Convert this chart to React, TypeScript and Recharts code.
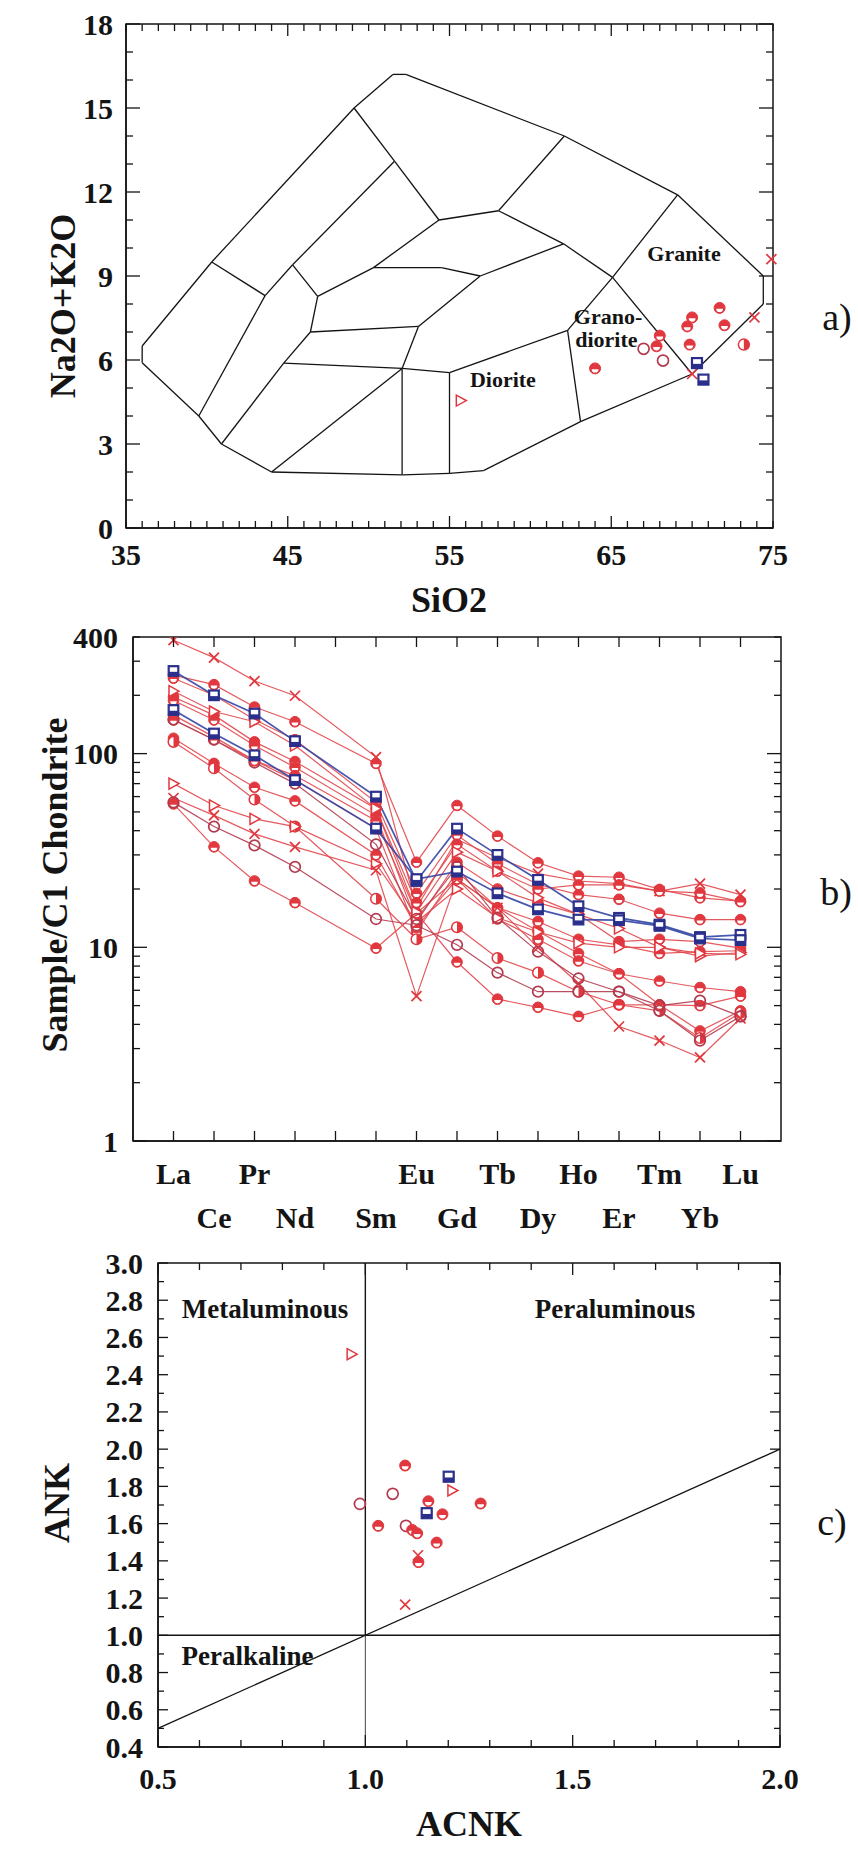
import React from 'react';
import {
  ScatterChart,
  Scatter,
  LineChart,
  Line,
  XAxis,
  YAxis,
  ReferenceLine,
  ReferenceArea,
} from 'recharts';

const FONT = '"Liberation Serif", "Times New Roman", Times, serif';
const INK = '#141414';
const RED = '#e0383e';
const RED_LINE = '#e2474d';
const DARK_RED = '#b33a4e';
const NAVY = '#2a2f8c';
const BLUE_LINE = '#3445a5';

// ---------------- Panel a: TAS diagram ----------------
const TAS_OUTLINE: number[][] = [
  [36.0, 5.9], [36.0, 6.5], [40.3, 9.5], [49.1, 15.0], [51.5, 16.2], [52.3, 16.2],
  [62.1, 14.0], [69.1, 11.9], [74.4, 9.0], [74.4, 8.0], [70.0, 5.5], [63.1, 3.8],
  [57.1, 2.05], [55.0, 1.95], [52.1, 1.9], [44.0, 2.0], [40.9, 3.0], [39.5, 4.0], [36.0, 5.9],
];
const TAS_INNER: number[][][] = [
  [[40.3, 9.5], [43.6, 8.3], [39.5, 4.0]],
  [[49.1, 15.0], [51.6, 13.1], [54.35, 11.0]],
  [[51.6, 13.1], [45.3, 9.4], [43.6, 8.3]],
  [[45.3, 9.4], [46.85, 8.27]],
  [[46.85, 8.27], [50.3, 9.3], [54.35, 11.0]],
  [[50.3, 9.3], [54.5, 9.3], [56.9, 9.0]],
  [[46.85, 8.27], [46.4, 7.0], [44.75, 5.89], [40.9, 3.0]],
  [[46.4, 7.0], [53.08, 7.2]],
  [[53.08, 7.2], [56.9, 9.0], [62.05, 10.15]],
  [[53.08, 7.2], [52.07, 5.7]],
  [[44.75, 5.89], [52.07, 5.7], [55.0, 5.55]],
  [[52.07, 5.7], [44.0, 2.0]],
  [[52.07, 5.7], [52.07, 1.9]],
  [[55.0, 5.55], [55.0, 1.95]],
  [[55.0, 5.55], [62.3, 7.06], [65.08, 8.95]],
  [[62.3, 7.06], [63.1, 3.8]],
  [[65.08, 8.95], [69.1, 11.9]],
  [[65.08, 8.95], [70.0, 5.5]],
  [[54.35, 11.0], [58.03, 11.33], [62.1, 14.0]],
  [[58.03, 11.33], [62.05, 10.15], [65.08, 8.95]],
];
const TAS_LABELS = [
  { x: 69.5, y: 9.8, text: 'Granite' },
  { x: 64.8, y: 7.55, text: 'Grano-' },
  { x: 64.7, y: 6.73, text: 'diorite' },
  { x: 58.3, y: 5.32, text: 'Diorite' },
];
const A_CROSS = [{ x: 74.9, y: 9.6 }, { x: 73.85, y: 7.52 }, { x: 70.0, y: 5.5 }];
const A_TRI = [{ x: 55.7, y: 4.55 }];
const A_HALF = [
  { x: 64.0, y: 5.7 }, { x: 68.0, y: 6.87 }, { x: 67.8, y: 6.49 }, { x: 70.0, y: 7.52 },
  { x: 69.7, y: 7.2 }, { x: 69.85, y: 6.55 }, { x: 71.7, y: 7.86 }, { x: 72.0, y: 7.24 },
];
const A_HALFV = [{ x: 73.2, y: 6.55 }];
const A_OPEN = [{ x: 67.0, y: 6.4 }, { x: 68.2, y: 5.98 }];
const A_SQUARE = [{ x: 70.3, y: 5.89 }, { x: 70.7, y: 5.3 }];

const X_TICKS_A = [35, 36, 37, 38, 39, 40, 41, 42, 43, 44, 45, 46, 47, 48, 49, 50, 51, 52, 53, 54, 55,
  56, 57, 58, 59, 60, 61, 62, 63, 64, 65, 66, 67, 68, 69, 70, 71, 72, 73, 74, 75];
const X_LABELS_A = [35, 45, 55, 65, 75];
const Y_TICKS_A = [0, 1, 2, 3, 4, 5, 6, 7, 8, 9, 10, 11, 12, 13, 14, 15, 16, 17, 18];
const Y_LABELS_A = [0, 3, 6, 9, 12, 15, 18];

// ---------------- Panel b: REE pattern ----------------
const ELEMENTS = ['La', 'Ce', 'Pr', 'Nd', 'Sm', 'Eu', 'Gd', 'Tb', 'Dy', 'Ho', 'Er', 'Tm', 'Yb', 'Lu'];
const ELEMENT_POS = [1, 2, 3, 4, 6, 7, 8, 9, 10, 11, 12, 13, 14, 15];
const REE_TICK_LABELS = ['La', 'Ce', 'Pr', 'Nd', '', 'Sm', 'Eu', 'Gd', 'Tb', 'Dy', 'Ho', 'Er', 'Tm', 'Yb', 'Lu'];
const REE_TICKS = [1, 2, 3, 4, 5, 6, 7, 8, 9, 10, 11, 12, 13, 14, 15];
const Y_TICKS_B = [1, 2, 3, 4, 5, 6, 7, 8, 9, 10, 20, 30, 40, 50, 60, 70, 80, 90, 100, 200, 300, 400];
const Y_LABELS_B = [1, 10, 100, 400];

const R1 = [385, 313, 237, 199, 96, 16, 36, 29, 24, 22, 21.3, 19.5, 21.3, 18.7];
const R2 = [254, 227, 174, 146, 89, 27.5, 54, 37.5, 27.3, 23.3, 23, 19.9, 18, 17.3];
const R3 = [245, 200, 150, 118, 56, 19, 38, 27, 21.1, 18.7, 17.7, 15, 13.9, 13.9];
const R4 = [196, 158, 115, 91, 52, 17, 34, 24.7, 20, 21, 21, 19.5, 19.1, 17.2];
const R5 = [188, 149, 110, 85, 48, 13.5, 27.5, 20, 17, 14.8, 10.7, 11, 10.7, 9.9];
const R6 = [158, 122, 92, 77, 45, 15, 22.5, 16, 13.6, 11, 10.3, 9.3, 9.5, 9.6];
const R7 = [149, 118, 92, 73, 41, 12, 24.6, 16, 12.1, 9.3, 7.3, 5.05, 3.7, 4.7];
const R8 = [120, 89, 67, 57, 30, 12.7, 22.5, 14, 11, 8.5, 7.3, 6.7, 6.2, 5.9];
const R9 = [115, 84, 58, 42, 17.8, 11, 12.7, 8.8, 7.4, 5.9, 5.05, 4.7, 3.4, 4.6];
const R10 = [55, 33, 22, 17, 9.9, 15, 8.4, 5.4, 4.9, 4.4, 5.05, 5.05, 5.0, 5.6];
const T1 = [210, 165, 146, 110, 52, 15.2, 31, 24.7, 18, 14.8, 12.5, 10, 9.0, 9.4];
const T2 = [70, 54, 46, 42, 27, 13.5, 20, 14.2, 12, 10.5, 10, 10, 9.3, 9.2];
const C2 = [59, 48, 38.5, 33, 25, 5.6, 22.5, 16, 10, 6.5, 3.9, 3.3, 2.7, 4.3];
const O1 = [56, 42, 33.6, 26, 14, 13, 10.3, 7.4, 5.9, 5.9, 5.9, 5.0, 5.3, 4.4];
const O2 = [150, 118, 90, 70, 34, 14, 26, 14.2, 9.5, 6.9, 5.9, 4.7, 3.3, 4.4];
const B1 = [267, 200, 161, 116, 60, 22, 41, 30, 22.3, 16.3, 14.2, 13.1, 11.3, 11.6];
const B2 = [168, 127, 98, 73, 41, 22.5, 24.6, 19, 15.7, 13.9, 13.8, 12.9, 11.1, 10.9];

// ---------------- Panel c: A/CNK vs A/NK ----------------
const C_CROSS = [{ x: 1.096, y: 1.165 }, { x: 1.127, y: 1.43 }];
const C_TRI = [{ x: 0.967, y: 2.51 }, { x: 1.21, y: 1.778 }];
const C_OPEN = [{ x: 0.987, y: 1.706 }, { x: 1.066, y: 1.76 }, { x: 1.098, y: 1.588 }];
const C_SQUARE = [{ x: 1.201, y: 1.852 }, { x: 1.148, y: 1.656 }];
const C_HALF = [
  { x: 1.096, y: 1.912 }, { x: 1.031, y: 1.588 }, { x: 1.113, y: 1.566 }, { x: 1.125, y: 1.548 },
  { x: 1.152, y: 1.72 }, { x: 1.186, y: 1.65 }, { x: 1.172, y: 1.498 }, { x: 1.128, y: 1.393 },
  { x: 1.278, y: 1.708 },
];
const C_LABELS = [
  { x: 0.758, y: 2.755, text: 'Metaluminous' },
  { x: 1.602, y: 2.755, text: 'Peraluminous' },
  { x: 0.716, y: 0.889, text: 'Peralkaline' },
];
const X_TICKS_C = [0.5, 0.6, 0.7, 0.8, 0.9, 1.0, 1.1, 1.2, 1.3, 1.4, 1.5, 1.6, 1.7, 1.8, 1.9, 2.0];
const X_LABELS_C = [0.5, 1.0, 1.5, 2.0];
const Y_TICKS_C = [0.4, 0.5, 0.6, 0.7, 0.8, 0.9, 1.0, 1.1, 1.2, 1.3, 1.4, 1.5, 1.6, 1.7, 1.8, 1.9,
  2.0, 2.1, 2.2, 2.3, 2.4, 2.5, 2.6, 2.7, 2.8, 2.9, 3.0];
const Y_LABELS_C = [0.4, 0.6, 0.8, 1.0, 1.2, 1.4, 1.6, 1.8, 2.0, 2.2, 2.4, 2.6, 2.8, 3.0];

// ---------------- markers ----------------
function Marker({ kind, cx, cy, s = 5.5 }: { kind: string; cx: number; cy: number; s?: number }) {
  if (cx == null || cy == null || Number.isNaN(cx) || Number.isNaN(cy)) return <g />;
  const k = s * 0.62;
  switch (kind) {
    case 'half':
      return (
        <g>
          <circle cx={cx} cy={cy} r={s} fill={RED} stroke={RED} strokeWidth={1} />
          <path d={`M${cx - k},${cy + 0.8} A${k},${k} 0 0 0 ${cx + k},${cy + 0.8} Z`} fill="#fff" />
        </g>
      );
    case 'halfv':
      return (
        <g>
          <circle cx={cx} cy={cy} r={s} fill="#fff" stroke={RED} strokeWidth={1.5} />
          <path d={`M${cx},${cy - s} A${s},${s} 0 0 1 ${cx},${cy + s} Z`} fill={RED} />
        </g>
      );
    case 'open':
      return <circle cx={cx} cy={cy} r={s} fill="none" stroke={DARK_RED} strokeWidth={1.7} />;
    case 'tri':
      return (
        <polygon
          points={`${cx - 4.5},${cy - 5.5} ${cx + 5.5},${cy} ${cx - 4.5},${cy + 5.5}`}
          fill="#fff"
          stroke={RED}
          strokeWidth={1.5}
        />
      );
    case 'cross':
      return (
        <g stroke={RED} strokeWidth={1.7}>
          <line x1={cx - 5} y1={cy - 5} x2={cx + 5} y2={cy + 5} />
          <line x1={cx - 5} y1={cy + 5} x2={cx + 5} y2={cy - 5} />
        </g>
      );
    case 'square':
      return (
        <g>
          <rect x={cx - s} y={cy - s} width={2 * s} height={2 * s} fill={NAVY} stroke={NAVY} strokeWidth={1.2} />
          <rect x={cx - s + 1.6} y={cy - s + 1.6} width={2 * s - 3.2} height={s * 0.85} fill="#fff" />
        </g>
      );
    default:
      return <g />;
  }
}

const shapeOf = (kind: string) => (p: any) => <Marker kind={kind} cx={p.cx} cy={p.cy} />;
const textShape = (size: number) => (p: any) => (
  <text
    x={p.cx}
    y={p.cy}
    textAnchor="middle"
    dominantBaseline="central"
    fontFamily={FONT}
    fontWeight="bold"
    fontSize={size}
    fill={INK}
  >
    {p.payload.text}
  </text>
);

// ---------------- ticks ----------------
type TickOpts = {
  opp: number;
  isMajor: (v: number) => boolean;
  majorLen: number;
  minorLen: number;
  label: (v: number) => string;
  off: (v: number) => number;
  fontSize: number;
};

function makeXTick(o: TickOpts) {
  return (props: any) => {
    const { x, y, payload } = props;
    const v = payload.value;
    const len = o.isMajor(v) ? o.majorLen : o.minorLen;
    const lab = o.label(v);
    return (
      <g>
        <line x1={x} y1={y} x2={x} y2={y - len} stroke={INK} strokeWidth={1.3} />
        <line x1={x} y1={o.opp} x2={x} y2={o.opp + len} stroke={INK} strokeWidth={1.3} />
        {lab ? (
          <text x={x} y={y + o.off(v)} textAnchor="middle" dominantBaseline="central"
            fontFamily={FONT} fontWeight="bold" fontSize={o.fontSize} fill={INK}>
            {lab}
          </text>
        ) : null}
      </g>
    );
  };
}

function makeYTick(o: TickOpts) {
  return (props: any) => {
    const { x, y, payload } = props;
    const v = payload.value;
    const len = o.isMajor(v) ? o.majorLen : o.minorLen;
    const lab = o.label(v);
    return (
      <g>
        <line x1={x} y1={y} x2={x + len} y2={y} stroke={INK} strokeWidth={1.3} />
        <line x1={o.opp} y1={y} x2={o.opp - len} y2={y} stroke={INK} strokeWidth={1.3} />
        {lab ? (
          <text x={x - o.off(v)} y={y} textAnchor="end" dominantBaseline="central"
            fontFamily={FONT} fontWeight="bold" fontSize={o.fontSize} fill={INK}>
            {lab}
          </text>
        ) : null}
      </g>
    );
  };
}

const near = (list: number[], v: number) => list.some((t) => Math.abs(t - v) < 1e-6);

function segmentsOf(poly: number[][]) {
  const out: { x: number; y: number }[][] = [];
  for (let i = 0; i < poly.length - 1; i++) {
    out.push([{ x: poly[i][0], y: poly[i][1] }, { x: poly[i + 1][0], y: poly[i + 1][1] }]);
  }
  return out;
}

// ---------------- Panel A ----------------
function PanelA() {
  const segs = [...segmentsOf(TAS_OUTLINE), ...TAS_INNER.flatMap(segmentsOf)];
  return (
    <ScatterChart width={858} height={620} margin={{ top: 24, right: 85, bottom: 52, left: 66 }}>
      <XAxis type="number" dataKey="x" domain={[35, 75]} ticks={X_TICKS_A} interval={0} height={40}
        tickSize={0} tickMargin={0} tickLine={false} axisLine={{ stroke: INK, strokeWidth: 1.5 }}
        tick={makeXTick({
          opp: 24, isMajor: (v) => near([45, 55, 65], v), majorLen: 12, minorLen: 7,
          label: (v) => (near(X_LABELS_A, v) ? String(v) : ''), off: () => 26, fontSize: 30,
        })} />
      <YAxis type="number" dataKey="y" domain={[0, 18]} ticks={Y_TICKS_A} interval={0} width={60}
        tickSize={0} tickMargin={0} tickLine={false} axisLine={{ stroke: INK, strokeWidth: 1.5 }}
        tick={makeYTick({
          opp: 773, isMajor: (v) => near(Y_LABELS_A, v), majorLen: 14, minorLen: 7,
          label: (v) => (near(Y_LABELS_A, v) ? String(v) : ''), off: () => 13, fontSize: 30,
        })} />
      <ReferenceArea x1={35} x2={75} y1={0} y2={18} fill="none" stroke={INK} strokeWidth={1.5} />
      {segs.map((s, i) => (
        <ReferenceLine key={`tas-${i}`} segment={s} stroke={INK} strokeWidth={1.3} ifOverflow="visible" />
      ))}
      <Scatter data={TAS_LABELS} shape={textShape(22)} isAnimationActive={false} />
      <Scatter data={A_TRI} shape={shapeOf('tri')} isAnimationActive={false} />
      <Scatter data={A_OPEN} shape={shapeOf('open')} isAnimationActive={false} />
      <Scatter data={A_HALF} shape={shapeOf('half')} isAnimationActive={false} />
      <Scatter data={A_HALFV} shape={shapeOf('halfv')} isAnimationActive={false} />
      <Scatter data={A_CROSS} shape={shapeOf('cross')} isAnimationActive={false} />
      <Scatter data={A_SQUARE} shape={shapeOf('square')} isAnimationActive={false} />
    </ScatterChart>
  );
}

// ---------------- Panel B ----------------
const REE_SERIES = [
  { key: 'r1', values: R1, kind: 'cross', color: RED_LINE },
  { key: 'r2', values: R2, kind: 'half', color: RED_LINE },
  { key: 'r3', values: R3, kind: 'half', color: RED_LINE },
  { key: 'r4', values: R4, kind: 'half', color: RED_LINE },
  { key: 'r5', values: R5, kind: 'half', color: RED_LINE },
  { key: 'r6', values: R6, kind: 'half', color: RED_LINE },
  { key: 'r7', values: R7, kind: 'half', color: RED_LINE },
  { key: 'r8', values: R8, kind: 'half', color: RED_LINE },
  { key: 'r9', values: R9, kind: 'halfv', color: RED_LINE },
  { key: 'r10', values: R10, kind: 'half', color: RED_LINE },
  { key: 't1', values: T1, kind: 'tri', color: RED_LINE },
  { key: 't2', values: T2, kind: 'tri', color: RED_LINE },
  { key: 'c2', values: C2, kind: 'cross', color: RED_LINE },
  { key: 'o1', values: O1, kind: 'open', color: DARK_RED },
  { key: 'o2', values: O2, kind: 'open', color: DARK_RED },
  { key: 'b1', values: B1, kind: 'square', color: BLUE_LINE },
  { key: 'b2', values: B2, kind: 'square', color: BLUE_LINE },
];

const REE_ROWS = ELEMENT_POS.map((pos, i) => {
  const row: Record<string, number | string> = { pos, el: ELEMENTS[i] };
  REE_SERIES.forEach((s) => {
    row[s.key] = s.values[i];
  });
  return row;
});

function PanelB() {
  return (
    <LineChart width={858} height={700} data={REE_ROWS} margin={{ top: 77, right: 77, bottom: 79, left: 73 }}>
      <XAxis type="number" dataKey="pos" domain={[0, 16]} ticks={REE_TICKS} interval={0} height={40}
        tickSize={0} tickMargin={0} tickLine={false} axisLine={{ stroke: INK, strokeWidth: 1.5 }}
        tick={makeXTick({
          opp: 77, isMajor: () => true, majorLen: 10, minorLen: 10,
          label: (v) => REE_TICK_LABELS[Math.round(v) - 1] || '',
          off: (v) => (Math.round(v) % 2 === 1 ? 32 : 76), fontSize: 30,
        })} />
      <YAxis type="number" scale="log" domain={[1, 400]} ticks={Y_TICKS_B} interval={0} width={60}
        allowDataOverflow tickSize={0} tickMargin={0} tickLine={false}
        axisLine={{ stroke: INK, strokeWidth: 1.5 }}
        tick={makeYTick({
          opp: 781, isMajor: (v) => near([1, 10, 100], v), majorLen: 14, minorLen: 7,
          label: (v) => (near(Y_LABELS_B, v) ? String(v) : ''), off: () => 15, fontSize: 30,
        })} />
      <ReferenceArea x1={0} x2={16} y1={1} y2={400} fill="none" stroke={INK} strokeWidth={1.5} />
      {REE_SERIES.map((s) => (
        <Line
          key={s.key}
          dataKey={s.key}
          type="linear"
          stroke={s.color}
          strokeWidth={s.kind === 'square' ? 1.7 : 1.2}
          strokeOpacity={0.9}
          isAnimationActive={false}
          dot={(p: any) => <Marker key={`${s.key}-${p.index}`} kind={s.kind} cx={p.cx} cy={p.cy} s={5.3} />}
          activeDot={false}
        />
      ))}
    </LineChart>
  );
}

// ---------------- Panel C ----------------
function PanelC() {
  return (
    <ScatterChart width={858} height={609} margin={{ top: 23, right: 78, bottom: 62, left: 98 }}>
      <XAxis type="number" dataKey="x" domain={[0.5, 2.0]} ticks={X_TICKS_C} interval={0} height={40}
        tickSize={0} tickMargin={0} tickLine={false} axisLine={{ stroke: INK, strokeWidth: 1.5 }}
        tick={makeXTick({
          opp: 23, isMajor: (v) => near(X_LABELS_C, v), majorLen: 12, minorLen: 7,
          label: (v) => (near(X_LABELS_C, v) ? v.toFixed(1) : ''), off: () => 31, fontSize: 30,
        })} />
      <YAxis type="number" dataKey="y" domain={[0.4, 3.0]} ticks={Y_TICKS_C} interval={0} width={60}
        tickSize={0} tickMargin={0} tickLine={false} axisLine={{ stroke: INK, strokeWidth: 1.5 }}
        tick={makeYTick({
          opp: 780, isMajor: (v) => near(Y_LABELS_C, v), majorLen: 10, minorLen: 6,
          label: (v) => (near(Y_LABELS_C, v) ? v.toFixed(1) : ''), off: () => 15, fontSize: 30,
        })} />
      <ReferenceArea x1={0.5} x2={2.0} y1={0.4} y2={3.0} fill="none" stroke={INK} strokeWidth={1.5} />
      <ReferenceLine segment={[{ x: 1.0, y: 1.0 }, { x: 1.0, y: 3.0 }]} stroke={INK} strokeWidth={1.4} />
      <ReferenceLine segment={[{ x: 1.0, y: 0.4 }, { x: 1.0, y: 1.0 }]} stroke={INK} strokeWidth={0.8} />
      <ReferenceLine segment={[{ x: 0.5, y: 1.0 }, { x: 2.0, y: 1.0 }]} stroke={INK} strokeWidth={1.6} />
      <ReferenceLine segment={[{ x: 0.5, y: 0.5 }, { x: 2.0, y: 2.0 }]} stroke={INK} strokeWidth={1.3} />
      <Scatter data={C_LABELS} shape={textShape(27)} isAnimationActive={false} />
      <Scatter data={C_TRI} shape={shapeOf('tri')} isAnimationActive={false} />
      <Scatter data={C_OPEN} shape={shapeOf('open')} isAnimationActive={false} />
      <Scatter data={C_HALF} shape={shapeOf('half')} isAnimationActive={false} />
      <Scatter data={C_CROSS} shape={shapeOf('cross')} isAnimationActive={false} />
      <Scatter data={C_SQUARE} shape={shapeOf('square')} isAnimationActive={false} />
    </ScatterChart>
  );
}

export default function App() {
  const title = { fontFamily: FONT, fontWeight: 'bold' as const, fontSize: 36, fill: INK };
  const tag = { fontFamily: FONT, fontSize: 38, fill: INK };
  return (
    <div style={{ position: 'absolute', left: 0, top: 0, width: 858, height: 1849, background: '#fff', overflow: 'hidden' }}>
      <div style={{ position: 'absolute', left: 0, top: 0 }}>
        <PanelA />
      </div>
      <div style={{ position: 'absolute', left: 0, top: 560 }}>
        <PanelB />
      </div>
      <div style={{ position: 'absolute', left: 0, top: 1240 }}>
        <PanelC />
      </div>
      <svg width={858} height={1849} style={{ position: 'absolute', left: 0, top: 0, pointerEvents: 'none' }}>
        <text x={449} y={600} textAnchor="middle" dominantBaseline="central" {...title}>SiO2</text>
        <text x={63} y={306} textAnchor="middle" dominantBaseline="central" transform="rotate(-90 63 306)" {...title}>Na2O+K2O</text>
        <text x={55} y={885} textAnchor="middle" dominantBaseline="central" transform="rotate(-90 55 885)" {...title}>Sample/C1 Chondrite</text>
        <text x={57} y={1503} textAnchor="middle" dominantBaseline="central" transform="rotate(-90 57 1503)" {...title}>ANK</text>
        <text x={469} y={1824} textAnchor="middle" dominantBaseline="central" {...title}>ACNK</text>
        <text x={837} y={317} textAnchor="middle" dominantBaseline="central" {...tag}>a)</text>
        <text x={836} y={892} textAnchor="middle" dominantBaseline="central" {...tag}>b)</text>
        <text x={832} y={1522} textAnchor="middle" dominantBaseline="central" {...tag}>c)</text>
      </svg>
    </div>
  );
}
